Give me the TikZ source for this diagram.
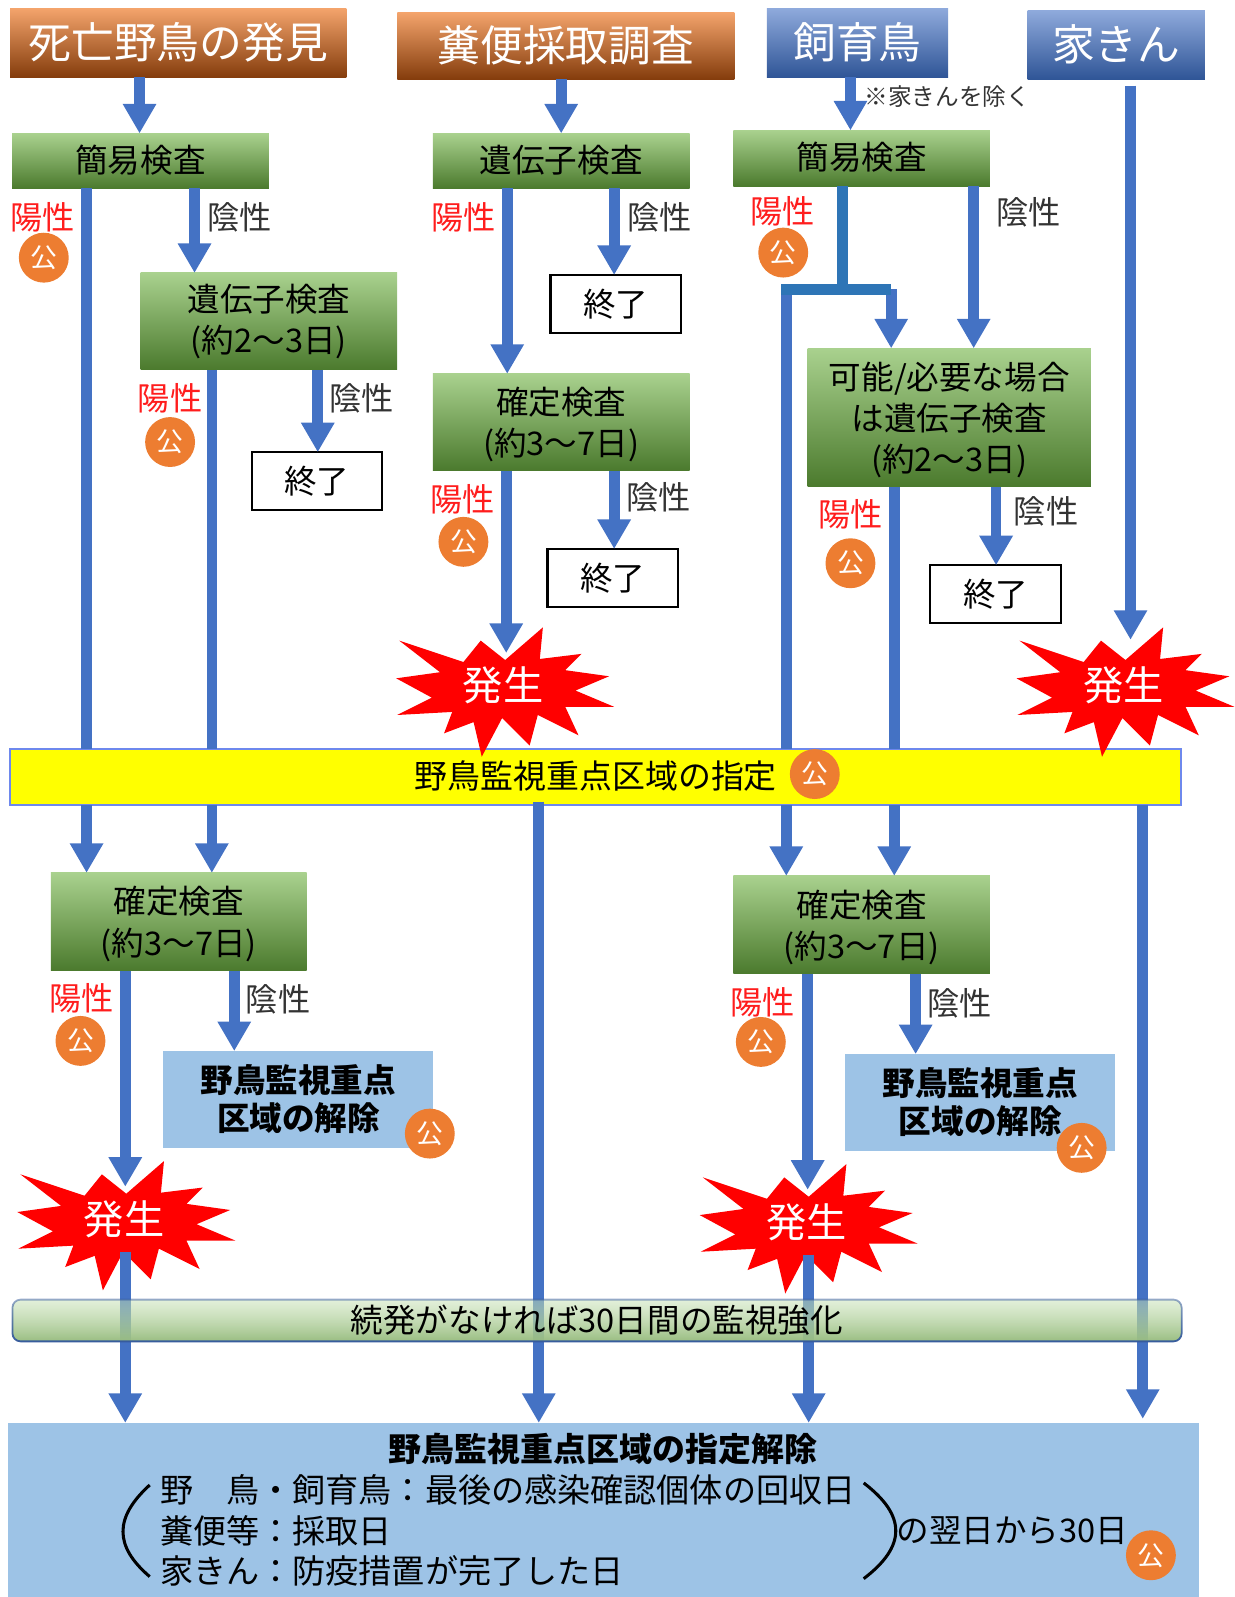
\documentclass[tikz,border=0pt]{standalone}
\usepackage{fontspec}
\setmainfont{Noto Sans CJK JP}
\usetikzlibrary{calc,shapes,arrows.meta,fadings}
\definecolor{flowblue}{HTML}{4472C4}
\definecolor{joinblue}{HTML}{2E75B6}
\definecolor{pubred}{HTML}{ED7D31}
\definecolor{skyfill}{HTML}{9DC3E6}
\definecolor{zonefill}{HTML}{FFFF00}
\definecolor{orgtop}{HTML}{F4A46C}
\definecolor{orgmid}{HTML}{C8641C}
\definecolor{orgbot}{HTML}{843C0C}
\definecolor{blutop}{HTML}{8FAADC}
\definecolor{blumid}{HTML}{4270C0}
\definecolor{blubot}{HTML}{2F5597}
\definecolor{grntop}{HTML}{A9D18E}
\definecolor{grnmid}{HTML}{70AD47}
\definecolor{grnbot}{HTML}{4B7A2D}
\tikzfading[name=barfade, top color=transparent!50, middle color=transparent!0, bottom color=transparent!0]
\newcommand\drawPublic[3]{%
\node[circle, fill = pubred, text = white, minimum size=0.98cm, inner sep=0pt, font=\fontsize{15}{15}\selectfont] (#1) at (#2,#3) {公};
}
\newcommand\drawBurst[3]{%
\fill[red, shift={(#2,#3)}] (-102,-44) -- (-39,-23) -- (-22,-44) -- (2,-25) -- (39,-57) -- (36,-26)
-- (77,-31) -- (61,-15) -- (104,-9) -- (71,5) -- (109,21) -- (61,21) -- (74,49) -- (34,29)
-- (26,59) -- (-1,32) -- (-21,70) -- (-29,36) -- (-58,47) -- (-50,26) -- (-104,29) -- (-70,12)
-- (-105,-7) -- (-62,-13) -- cycle;
\node[text = white, minimum height=1.26cm, inner sep=0pt, font=\fontsize{22.5}{22.5}\selectfont] (#1) at (#2,#3) {発生};
}
\begin{document}
\begin{tikzpicture}[x=0.02cm, y=-0.02cm,
			org/.style={inner sep=0pt, outer sep=0pt, text=white, text depth=0.22em, top color=orgtop, middle color=orgmid, bottom color=orgbot, font=\fontsize{23.9}{28}\selectfont},
			blu/.style={inner sep=0pt, outer sep=0pt, text=white, text depth=0.22em, top color=blutop, middle color=blumid, bottom color=blubot, font=\fontsize{23.9}{28}\selectfont},
			grn/.style={inner sep=0pt, outer sep=0pt, align=center, top color=grntop, middle color=grnmid, bottom color=grnbot, font=\fontsize{18.2}{23}\selectfont},
			fin/.style={draw, line width=1.2pt, inner sep=0pt, outer sep=0pt, minimum width=2.56cm, minimum height=1.14cm, font=\fontsize{18.2}{23}\selectfont},
			rel/.style={fill=skyfill, inner sep=0pt, outer sep=0pt, align=center, text depth=0.25em, minimum width=5.3cm, minimum height=1.9cm, font=\bfseries\fontsize{18.2}{21.5}\selectfont},
			poslab/.style={text=red!85!pink, inner sep=0pt, font=\fontsize{18}{18}\selectfont},
			neglab/.style={text=black!80, inner sep=0pt, font=\fontsize{18}{18}\selectfont},
			txt/.style={inner sep=0pt, anchor=west, font=\fontsize{18.5}{18.5}\selectfont},
			t1/.style={line width=0.21cm, color=flowblue, -{Triangle[width=0.62cm,length=0.58cm]}},
			t2/.style={line width=0.21cm, color=flowblue},
			t3/.style={line width=0.21cm, color=joinblue}]

			\useasboundingbox (0,0) rectangle (1212,1568);

			% drawing sources
			\node[org, minimum width=6.6cm, minimum height=1.36cm] (dead) at (175,42) {死亡野鳥の発見};
			\node[org, minimum width=6.62cm, minimum height=1.32cm] (feces) at (555.5,45) {糞便採取調査};
			\node[blu, minimum width=3.56cm, minimum height=1.36cm] (kept) at (842,42) {飼育鳥};
			\node[blu, minimum width=3.48cm, minimum height=1.36cm] (fowl) at (1096,44) {家きん};
			\node[inner sep=0pt, text=black!80, font=\fontsize{13.2}{13.2}\selectfont] (note) at (930,95) {※家きんを除く};

			% drawing tests
			\node[grn, text depth=0.25em, minimum width=5.04cm, minimum height=1.08cm] (quick1) at (138,158) {簡易検査};
			\node[grn, text depth=0.25em, minimum width=5.04cm, minimum height=1.08cm] (gene1) at (551,158) {遺伝子検査};
			\node[grn, text depth=0.25em, minimum width=5.04cm, minimum height=1.1cm] (quick2) at (846,155.5) {簡易検査};
			\node[grn, minimum width=5.04cm, minimum height=1.9cm] (gene2) at (264,315.5) {遺伝子検査\\(約2～3日)};
			\node[grn, text depth=0.1em, minimum width=5.04cm, minimum height=1.9cm] (fix1) at (551,414.5) {確定検査\\(約3～7日)};
			\node[grn, text depth=0.1em, minimum width=5.56cm, minimum height=2.72cm] (gene3) at (932,410) {可能/必要な場合\\は遺伝子検査\\(約2～3日)};
			\node[grn, text depth=0.1em, minimum width=5.02cm, minimum height=1.92cm] (fix2) at (175.5,905) {確定検査\\(約3～7日)};
			\node[grn, text depth=0.1em, minimum width=5.04cm, minimum height=1.92cm] (fix3) at (846,908) {確定検査\\(約3～7日)};

			% drawing ends
			\node[fin] (end1) at (311,472.5) {終了};
			\node[fin] (end2) at (604.5,298.5) {終了};
			\node[fin] (end3) at (601.5,567.5) {終了};
			\node[fin] (end4) at (977.5,583.5) {終了};

			% drawing zone
			\node[fill=zonefill, draw=skyfill!70!blue, line width=1pt, text depth=0.25em, inner sep=0pt, outer sep=0pt, minimum width=23cm, minimum height=1.1cm, font=\fontsize{18.4}{18.4}\selectfont] (zone) at (585,762.5) {野鳥監視重点区域の指定};
			\node[rel] (rel1) at (293,1079.5) {野鳥監視重点\\区域の解除};
			\node[rel] (rel2) at (962.5,1082.5) {野鳥監視重点\\区域の解除};
			\node[fill=skyfill, inner sep=0pt, outer sep=0pt, minimum width=23.38cm, minimum height=3.42cm] (lift) at (592.5,1482.5) {};

			% drawing bursts
			\drawBurst{burst1}{494}{673}
			\drawBurst{burst2}{1103}{673}
			\drawBurst{burst3}{122}{1197}
			\drawBurst{burst4}{792}{1200}

			% drawing arrow
			\draw[t1] (dead.south -| 137,0) -- (quick1.north -| 137,0);
			\draw[t1] (feces.south -| 551,0) -- (gene1.north -| 551,0);
			\draw[t1] (kept.south -| 835,0) -- (quick2.north -| 835,0);

			\draw[t2] (quick1.south -| 85,0) -- (zone.north -| 85,0);
			\draw[t1] (zone.south -| 85,0) -- (fix2.north -| 85,0);
			\draw[t1] (quick1.south -| 191,0) -- (gene2.north -| 191,0);
			\draw[t2] (gene2.south -| 208,0) -- (zone.north -| 208,0);
			\draw[t1] (zone.south -| 208,0) -- (fix2.north -| 208,0);
			\draw[t1] (gene2.south -| 312,0) -- (end1.north -| 312,0);

			\draw[t1] (gene1.south -| 498,0) -- (fix1.north -| 498,0);
			\draw[t1] (gene1.south -| 603,0) -- (end2.north -| 603,0);
			\draw[t1] (fix1.south -| 497,0) -- (burst1.north -| 497,0);
			\draw[t1] (fix1.south -| 603,0) -- (end3.north -| 603,0);

			\coordinate (jn) at (827,284);
			\coordinate (jl) at (772,284);
			\coordinate (jr) at (875,284);
			\draw[t2] (jl) -- (zone.north -| jl);
			\draw[t1] (zone.south -| jl) -- (fix3.north -| jl);
			\draw[t1] (jr) -- (gene3.north -| jr);
			\draw[t3, shorten <=-0.1cm] (jl) -- (jr);
			\draw[t3] (quick2.south -| jn) -- (jn);
			\draw[t1] (quick2.south -| 956,0) -- (gene3.north -| 956,0);
			\draw[t2] (gene3.south -| 878,0) -- (zone.north -| 878,0);
			\draw[t1] (zone.south -| 878,0) -- (fix3.north -| 878,0);
			\draw[t1] (gene3.south -| 978,0) -- (end4.north -| 978,0);

			\draw[t1, shorten <=0.12cm, shorten >=0.26cm] (fowl.south -| 1110,0) -- (burst2.north -| 1110,0);

			\draw[t1] (fix2.south -| 123,0) -- (burst3.north -| 123,0);
			\draw[t1] (fix2.south -| 230,0) -- (rel1.north -| 230,0);
			\draw[t1] (fix3.south -| 793,0) -- (burst4.north -| 793,0);
			\draw[t1] (fix3.south -| 899,0) -- (rel2.north -| 899,0);

			\draw[t1] (burst3.south -| 123,0) -- (lift.north -| 123,0);
			\draw[t1, shorten <=-0.06cm] (zone.south -| 529,0) -- (lift.north -| 529,0);
			\draw[t1] (burst4.south -| 794,0) -- (lift.north -| 794,0);
			\draw[t1, shorten >=0.08cm] (zone.south -| 1122,0) -- (lift.north -| 1122,0);

			% drawing watch bar
			\node[rounded corners=0.16cm, draw=flowblue!80!black, line width=1pt, top color=grntop!65!white, bottom color=grntop!90!black, path fading=barfade, fit fading=true, inner sep=0pt, outer sep=0pt, minimum width=22.96cm, minimum height=0.82cm, font=\fontsize{18.2}{18.2}\selectfont] (watch) at (586,1296.5) {続発がなければ30日間の監視強化};

			% drawing labels
			\node[poslab] (pos1) at (42,213) {陽性};
			\node[poslab] (pos2) at (167,391) {陽性};
			\node[poslab] (pos3) at (455,213) {陽性};
			\node[poslab] (pos4) at (454,490) {陽性};
			\node[poslab] (pos5) at (768,207) {陽性};
			\node[poslab] (pos6) at (835,505) {陽性};
			\node[poslab] (pos7) at (80,980) {陽性};
			\node[poslab] (pos8) at (749,984) {陽性};
			\node[neglab] (neg1) at (235,213) {陰性};
			\node[neglab] (neg2) at (355,391) {陰性};
			\node[neglab] (neg3) at (648,213) {陰性};
			\node[neglab] (neg4) at (647,488) {陰性};
			\node[neglab] (neg5) at (1010,208) {陰性};
			\node[neglab] (neg6) at (1027,502) {陰性};
			\node[neglab] (neg7) at (273,981) {陰性};
			\node[neglab] (neg8) at (942,985) {陰性};

			% drawing public marks
			\drawPublic{pub1}{43}{253}
			\drawPublic{pub2}{167}{434}
			\drawPublic{pub3}{455}{532}
			\drawPublic{pub4}{769}{248}
			\drawPublic{pub5}{835}{553}
			\drawPublic{pub6}{800}{760}
			\drawPublic{pub7}{79}{1022}
			\drawPublic{pub8}{747}{1023}
			\drawPublic{pub9}{422}{1113}
			\drawPublic{pub10}{1062}{1127}
			\drawPublic{pub11}{1130}{1527}

			% drawing lift text
			\node[inner sep=0pt, font=\bfseries\fontsize{18.4}{18.4}\selectfont] (lifttitle) at (592,1423) {野鳥監視重点区域の指定解除};
			\node[txt] (liftline1) at (157,1463) {野　鳥・飼育鳥：最後の感染確認個体の回収日};
			\node[txt] (liftline2) at (157,1503) {糞便等：採取日};
			\node[txt] (liftline3) at (157,1542) {家きん：防疫措置が完了した日};
			\node[txt, font=\fontsize{18.2}{18.2}\selectfont] (liftline4) at (880,1503) {の翌日から30日};
			\draw[line width=1.7pt] (147,1458) .. controls (112,1490) and (112,1518) .. (147,1548);
			\draw[line width=1.7pt] (848,1456) .. controls (890,1488) and (890,1518) .. (848,1550);
		\end{tikzpicture}
\end{document}
